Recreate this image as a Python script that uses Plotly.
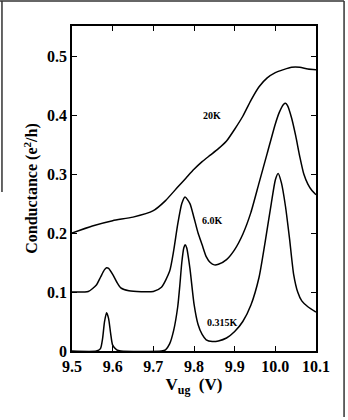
import plotly.graph_objects as go

# ---- data ----
v_20k = [9.50, 9.55, 9.60, 9.65, 9.70, 9.73, 9.76, 9.78, 9.80, 9.82, 9.84, 9.86,
         9.88, 9.90, 9.92, 9.94, 9.96, 9.98, 10.00, 10.02, 10.04, 10.06, 10.08, 10.10]
g_20k = [0.200, 0.212, 0.221, 0.227, 0.238, 0.255, 0.278, 0.293, 0.308, 0.321, 0.332, 0.343,
         0.356, 0.376, 0.398, 0.425, 0.448, 0.463, 0.472, 0.477, 0.481, 0.481, 0.478, 0.477]

v_6k = [9.50, 9.54, 9.56, 9.57, 9.58, 9.585, 9.59, 9.60, 9.61, 9.62, 9.64, 9.70,
        9.72, 9.74, 9.75, 9.76, 9.77, 9.778, 9.79, 9.80, 9.81, 9.82, 9.83, 9.84,
        9.85, 9.86, 9.88, 9.90, 9.92, 9.94, 9.96, 9.98, 10.00, 10.01, 10.02, 10.025,
        10.03, 10.04, 10.05, 10.06, 10.07, 10.08, 10.09, 10.10]
g_6k = [0.100, 0.101, 0.112, 0.125, 0.138, 0.141, 0.140, 0.130, 0.117, 0.107, 0.102, 0.101,
        0.108, 0.135, 0.170, 0.215, 0.250, 0.261, 0.250, 0.226, 0.200, 0.180, 0.160, 0.150,
        0.146, 0.147, 0.155, 0.172, 0.198, 0.235, 0.285, 0.335, 0.385, 0.405, 0.418, 0.420,
        0.416, 0.395, 0.365, 0.330, 0.300, 0.283, 0.272, 0.265]

v_03k = [9.50, 9.56, 9.57, 9.575, 9.58, 9.585, 9.59, 9.595, 9.60, 9.61, 9.62, 9.72,
         9.73, 9.74, 9.75, 9.76, 9.765, 9.77, 9.775, 9.778, 9.782, 9.79, 9.80, 9.81,
         9.82, 9.83, 9.845, 9.86, 9.88, 9.90, 9.92, 9.94, 9.96, 9.975, 9.99, 10.00,
         10.007, 10.015, 10.025, 10.035, 10.045, 10.055, 10.065, 10.08, 10.10]
g_03k = [0.000, 0.000, 0.004, 0.020, 0.050, 0.065, 0.055, 0.030, 0.010, 0.002, 0.000, 0.000,
         0.002, 0.012, 0.035, 0.075, 0.110, 0.150, 0.175, 0.180, 0.175, 0.140, 0.080, 0.045,
         0.028, 0.019, 0.016, 0.017, 0.022, 0.033, 0.050, 0.078, 0.125, 0.185, 0.250, 0.290,
         0.301, 0.285, 0.245, 0.190, 0.130, 0.100, 0.085, 0.075, 0.066]

labels = ["20K", "6.0K", "0.315K"]
label_x = [9.845, 9.846, 9.871]
label_y = [0.400, 0.222, 0.048]

x_ticks = [9.5, 9.6, 9.7, 9.8, 9.9, 10.0, 10.1]
x_tick_text = ["9.5", "9.6", "9.7", "9.8", "9.9", "10.0", "10.1"]
y_ticks = [0, 0.1, 0.2, 0.3, 0.4, 0.5]
y_tick_text = ["0", "0.1", "0.2", "0.3", "0.4", "0.5"]

SERIF = "Liberation Serif"

fig = go.Figure()
for vx, gy in [(v_20k, g_20k), (v_6k, g_6k), (v_03k, g_03k)]:
    fig.add_trace(go.Scatter(x=vx, y=gy, mode="lines",
                             line=dict(color="black", width=1.5, shape="spline", smoothing=0.6),
                             showlegend=False, hoverinfo="skip"))

for t, lx, ly in zip(labels, label_x, label_y):
    fig.add_annotation(x=lx, y=ly, text="<b>%s</b>" % t, showarrow=False,
                       font=dict(family=SERIF, size=10, color="black"))

axis_common = dict(showgrid=False, zeroline=False, showline=True, linecolor="black",
                   linewidth=1.5, mirror="ticks", ticks="inside", ticklen=5,
                   tickwidth=1.2, tickcolor="black",
                   tickfont=dict(family=SERIF, size=16, color="black"))

fig.update_xaxes(range=[9.5, 10.1], tickvals=x_ticks,
                 ticktext=["<b>%s</b>" % s for s in x_tick_text],
                 title=dict(text="<b>V<sub>ug</sub>  (V)</b>",
                            font=dict(family=SERIF, size=17, color="black"), standoff=4),
                 **axis_common)
fig.update_yaxes(range=[0, 0.551], tickvals=y_ticks,
                 ticktext=["<b>%s</b>" % s for s in y_tick_text],
                 title=dict(text="<b>Conductance (e<sup>2</sup>/h)</b>",
                            font=dict(family=SERIF, size=16, color="black"), standoff=5),
                 **axis_common)

# page frame lines (from the scanned figure border)
frame = dict(color="#333333", width=1.5)
fig.add_shape(type="line", xref="paper", yref="paper", x0=-0.295, x1=1.115,
              y0=1.0769, y1=1.0769, line=frame)
fig.add_shape(type="line", xref="paper", yref="paper", x0=1.115, x1=1.115,
              y0=1.0769, y1=-0.203, line=frame)
fig.add_shape(type="line", xref="paper", yref="paper", x0=-0.287, x1=-0.287,
              y0=1.0769, y1=0.489, line=frame)

fig.update_layout(width=348, height=420, margin=dict(l=72, r=32, t=26, b=69),
                  paper_bgcolor="white", plot_bgcolor="white")

fig.write_html("out.html")
